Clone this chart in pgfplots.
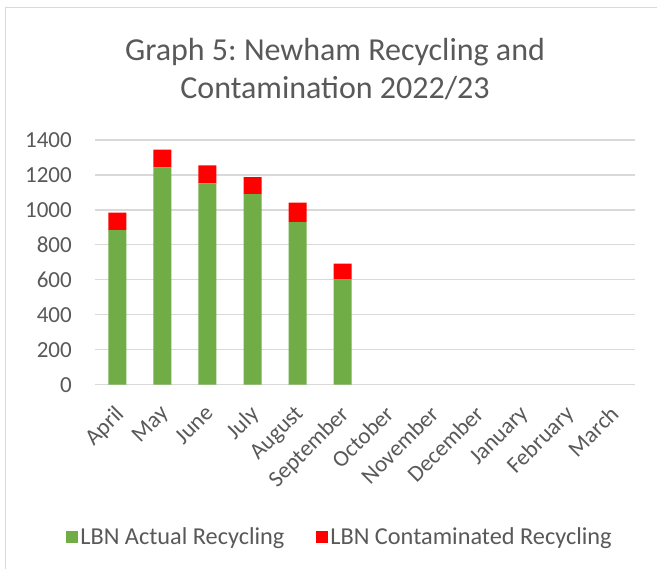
\documentclass[border=0pt]{standalone}
\usepackage{pgfplots}
\pgfplotsset{compat=1.18}
\usepackage{fontspec}
\setmainfont{Carlito}
\frenchspacing
\definecolor{txt}{RGB}{89,89,89}
\definecolor{grn}{RGB}{112,173,71}
\definecolor{rd}{RGB}{255,0,0}
\definecolor{grd}{RGB}{217,217,217}
\begin{document}
\begin{tikzpicture}
\useasboundingbox (0pt,0pt) rectangle (657pt,569pt);
\fill[white] (0pt,0pt) rectangle (657pt,569pt);
\draw[grd, line width=1pt] (5.5pt,0pt) -- (5.5pt,561pt) -- (657pt,561pt);
\node[txt, align=center, font=\fontsize{32}{38}\selectfont] at (335pt,500pt) {Graph 5: Newham Recycling and\\Contamination 2022/23};
\begin{axis}[
  at={(95pt,184.3pt)}, anchor=south west,
  scale only axis, width=540pt, height=244.7pt,
  ybar stacked, bar width=18pt,
  xmin=-0.5, xmax=11.5, ymin=0, ymax=1400,
  ytick={0,200,...,1400},
  xtick={0,...,11},
  xticklabels={April,May,June,July,August,September,October,November,December,January,February,March},
  axis line style={draw=none},
  major tick length=0pt,
  ymajorgrids, grid style={grd, line width=1.2pt},
  ticklabel style={font=\fontsize{23}{27}\selectfont, text=txt},
  /pgf/number format/assume math mode=true,
  /pgf/number format/1000 sep={},
  yticklabel style={anchor=east, inner sep=0pt, xshift=-23pt},
  xticklabel style={rotate=45, anchor=north east, inner sep=0pt, xshift=-16.3pt, yshift=-10.9pt},
  legend style={at={(0.4537,-0.622)}, anchor=center, draw=none, fill=none,
    font=\fontsize{24.3}{28}\selectfont, text=txt,
    /tikz/every even column/.append style={column sep=30pt}},
  legend columns=2,
  legend image code/.code={\fill[#1] (-3pt,-6pt) rectangle (9pt,6pt);},
  legend cell align=left,
]
\addplot[fill=grn, draw=none] coordinates {(0,884) (1,1244) (2,1152) (3,1090) (4,930) (5,602)};
\addplot[fill=rd, draw=none] coordinates {(0,101) (1,101) (2,103) (3,97) (4,112) (5,90)};
\legend{LBN Actual Recycling, LBN Contaminated Recycling}
\end{axis}
\end{tikzpicture}
\end{document}
